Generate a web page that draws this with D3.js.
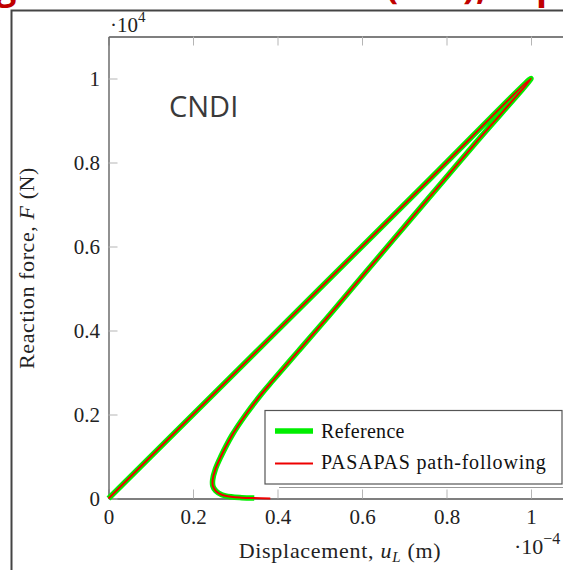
<!doctype html>
<html>
<head>
<meta charset="UTF-8">
<title>CNDI reaction force</title>
<script src="https://d3js.org/d3.v7.min.js"></script>
<style>
  body { margin: 0; background: #fff; }
  text { font-family: "Liberation Serif", "DejaVu Serif", serif; }
</style>
</head>
<body>
<svg width="563" height="570"></svg>
<script>
// x in 1e-4 m, y in 1e4 N
var refX = [0, 0.25, 0.5, 0.75, 1.0, 0.87, 0.738, 0.576, 0.513, 0.451, 0.39, 0.363, 0.325, 0.292, 0.266, 0.253, 0.2465, 0.247, 0.254, 0.268, 0.29, 0.315, 0.345];
var refY = [0, 0.25, 0.5, 0.75, 1.0, 0.848, 0.692, 0.5, 0.425, 0.353, 0.282, 0.25, 0.2, 0.15, 0.1, 0.07, 0.044, 0.03, 0.018, 0.009, 0.004, 0.002, 0.001];
var pfX = [0, 0.25, 0.5, 0.75, 1.0, 0.87, 0.738, 0.576, 0.513, 0.451, 0.39, 0.363, 0.325, 0.292, 0.266, 0.253, 0.2465, 0.247, 0.254, 0.268, 0.29, 0.315, 0.345, 0.383];
var pfY = [0, 0.25, 0.5, 0.75, 1.0, 0.848, 0.692, 0.5, 0.425, 0.353, 0.282, 0.25, 0.2, 0.15, 0.1, 0.07, 0.044, 0.03, 0.018, 0.009, 0.004, 0.002, 0.001, 0.0];
var xTicks = [0, 0.2, 0.4, 0.6, 0.8, 1];
var yTicks = [0, 0.2, 0.4, 0.6, 0.8, 1];
var xTickLabels = ["0", "0.2", "0.4", "0.6", "0.8", "1"];
var yTickLabels = ["0", "0.2", "0.4", "0.6", "0.8", "1"];
var seriesNames = ["Reference", "PASAPAS path-following"];

var svg = d3.select("svg");

// red heading of the slide, only its lower edge is in the picture
var head = svg.append("g").attr("fill", "#c00000")
  .style("font-weight", "bold").style("font-size", "36px");
[["g", -4], ["(", 386], [")", 463], [",", 476], ["p", 536]].forEach(function(p){
  head.append("text").attr("x", p[1]).attr("y", -1).style("font-family", "'Open Sans', sans-serif").text(p[0]);
});

// slide frame
svg.append("path").attr("d", "M11.5,600 V10.5 H600")
  .attr("fill", "none").attr("stroke", "#444").attr("stroke-width", 2);

var x = d3.scaleLinear().domain([0, 1.1]).range([108.5, 108.5 + 1.1 * 422.5]);
var y = d3.scaleLinear().domain([0, 1.1]).range([498.5, 498.5 - 1.1 * 420]);

function styleAxis(g){
  g.select(".domain").attr("stroke", "#555").attr("stroke-width", 1.3);
  g.selectAll(".tick line").attr("stroke", "#b5b5b5").attr("stroke-width", 1);
  g.selectAll(".tick text").attr("fill", "#222").style("font-size", "21px")
    .style("font-family", "'Liberation Serif', serif");
}

svg.append("g").attr("transform", "translate(0," + y(0) + ")")
  .call(d3.axisBottom(x).tickValues(xTicks).tickSize(-9).tickSizeOuter(0).tickPadding(11)
    .tickFormat(function(d, i){ return xTickLabels[i]; }))
  .call(styleAxis);
svg.append("g").attr("transform", "translate(0," + y(1.1) + ")")
  .call(d3.axisTop(x).tickValues(xTicks).tickSize(-9).tickSizeOuter(0).tickFormat(""))
  .call(styleAxis);
svg.append("g").attr("transform", "translate(" + x(0) + ",0)")
  .call(d3.axisLeft(y).tickValues(yTicks).tickSize(-9).tickSizeOuter(0).tickPadding(8.5)
    .tickFormat(function(d, i){ return yTickLabels[i]; }))
  .call(styleAxis);
svg.append("g").attr("transform", "translate(" + x(1.1) + ",0)")
  .call(d3.axisRight(y).tickValues(yTicks).tickSize(-9).tickSizeOuter(0).tickFormat(""))
  .call(styleAxis);

var line = d3.line()
  .x(function(d){ return x(d[0]); })
  .y(function(d){ return y(d[1]); })
  .curve(d3.curveCatmullRom.alpha(0.5));

svg.append("path").datum(d3.zip(refX, refY)).attr("d", line)
  .attr("fill", "none").attr("stroke", "#00ee00").attr("stroke-width", 5.5)
  .attr("stroke-linejoin", "round");
svg.append("path").datum(d3.zip(pfX, pfY)).attr("d", line)
  .attr("fill", "none").attr("stroke", "#ee0000").attr("stroke-width", 2)
  .attr("stroke-linejoin", "round");

// legend
svg.append("path").attr("d", "M279,487.5 H600").attr("stroke", "#999").attr("fill", "none");
svg.append("rect").attr("x", 265).attr("y", 410.5).attr("width", 297).attr("height", 73.5)
  .attr("fill", "#fff").attr("stroke", "#555").attr("stroke-width", 1.2);
var lg = svg.append("g");
lg.append("line").attr("x1", 275).attr("x2", 313).attr("y1", 431).attr("y2", 431)
  .attr("stroke", "#00ee00").attr("stroke-width", 5.5);
lg.append("line").attr("x1", 275).attr("x2", 313).attr("y1", 463.5).attr("y2", 463.5)
  .attr("stroke", "#ee0000").attr("stroke-width", 2);
lg.append("text").attr("x", 321).attr("y", 438).style("font-size", "20px").style("letter-spacing", "0.3px")
  .attr("fill", "#111").text(seriesNames[0]);
lg.append("text").attr("x", 321).attr("y", 469).style("font-size", "20px").style("letter-spacing", "0.8px")
  .attr("fill", "#111").text(seriesNames[1]);

// axis labels and exponents
var yl = svg.append("text").attr("transform", "translate(34,268) rotate(-90)")
  .attr("text-anchor", "middle").style("font-size", "22px").style("letter-spacing", "0.6px").attr("fill", "#222");
yl.append("tspan").text("Reaction force, ");
yl.append("tspan").style("font-style", "italic").text("F");
yl.append("tspan").text(" (N)");

var xl = svg.append("text").attr("x", 340).attr("y", 558)
  .attr("text-anchor", "middle").style("font-size", "22px").style("letter-spacing", "0.7px").attr("fill", "#222");
xl.append("tspan").text("Displacement, ");
xl.append("tspan").style("font-style", "italic").text("u");
xl.append("tspan").style("font-style", "italic").style("font-size", "15px").attr("dy", 4).text("L");
xl.append("tspan").attr("dy", -4).text(" (m)");

var ye = svg.append("text").attr("x", 110).attr("y", 32).style("font-size", "21px").attr("fill", "#222");
ye.append("tspan").text("\u00b710");
ye.append("tspan").style("font-size", "15px").attr("dy", -10).text("4");

var xe = svg.append("text").attr("x", 514).attr("y", 554).style("font-size", "22px").attr("fill", "#222");
xe.append("tspan").text("\u00b710");
xe.append("tspan").style("font-size", "16px").attr("dy", -10).text("\u22124");

svg.append("text").attr("x", 169).attr("y", 117)
  .style("font-family", "'Open Sans', sans-serif").style("font-size", "29px").attr("fill", "#3a3a3a")
  .text("CNDI");
</script>
</body>
</html>
